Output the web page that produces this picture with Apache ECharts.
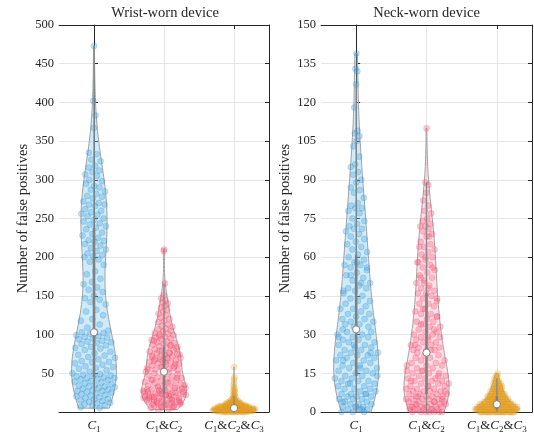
<!DOCTYPE html>
<html><head><meta charset="utf-8">
<script src="https://cdn.jsdelivr.net/npm/echarts@6/dist/echarts.min.js"></script>
<style>html,body{margin:0;padding:0;background:#fff}#c{width:534px;height:434px}</style>
</head><body><div id="c"></div>
<script>
// ---------- data ----------
const categories = ['C1', 'C1&C2', 'C1&C2&C3'];
const panelTitles = ['Wrist-worn device', 'Neck-worn device'];
const yAxisName = 'Number of false positives';
const wristAxis = { min: 0, max: 500, interval: 50 };
const neckAxis = { min: 0, max: 150, interval: 15 };

const wristC1 = [473,402,383,367,335,333,326,324,318,316,312,310,307,305,300,298,292,
295,290,287,285,282,279,278,276,272,270,268,268,266,262,260,258,256,255,253,250,248,246,244,242,240,238,236,232,230,228,225,222,221,220,217,215,212,210,208,205,203,201,200,
197,194,190,182,178,172,168,165,161,158,155,150,147,145,142,139,132,130,125,120,118,113,109,105,
104,103,102,101,99,98,97,96,95,94,92,91,90,89,88,86,84,83,82,80,78,76,74,73,71,70,68,66,65,64,63,61,59,58,57,56,54,52,
50,49,48,47,47,46,45,44,44,43,42,41,40,39,38,37,36,35,34,33,33,32,31,30,29,28,27,27,26,25,24,23,22,21,20,19,18,17,16,15,14,13,12,11,10,9,8,6,5];

const wristC1C2 = [210,208,166,151,147,144,142,140,137,135,132,130,127,125,122,120,118,116,113,111,110,108,107,105,104,102,101,100,99,97,96,95,94,93,91,90,89,88,87,86,85,84,83,81,80,79,78,77,76,75,74,73,72,71,70,69,68,67,66,65,64,63,62,61,60,59,58,57,56,55,54,53,92,86,79,74,70,66,62,58,55,76,98,82,64,71,57,68,
52,51,50,49,48,47,46,45,44,43,42,41,40,39,38,37,36,35,34,33,32,31,30,29,28,27,26,25,24,23,22,21,20,19,18,17,16,15,14,13,12,11,10,9,8,7,6,5,4,3,
30,28,26,25,24,22,21,20,18,17,16,15,14,12,11,10,8,7,27,23,19,13,9,29,31,33,35,38,41,44,24,20,16,12,26,22,18,6,28];

const wristC1C2C3 = [0,0,0,0,0,0,0,0,0,0,0,0,
1,1,1,1,1,1,1,1,1,1,1,1,1,1,
2,2,2,2,2,2,2,2,2,2,2,2,2,2,
3,3,3,3,3,3,3,3,3,3,3,3,3,3,
4,4,4,4,4,4,4,4,4,4,4,4,
5,5,5,5,5,5,5,5,5,5,5,5,
6,6,6,6,6,6,6,6,6,6,
7,7,7,7,7,7,7,7,7,
8,8,8,8,8,8,8,8,
9,9,9,9,9,9,
10,10,10,10,10,10,
11,11,11,11,11,
12,12,12,12,
13,13,13,14,14,14,15,15,15,
16,17,18,19,20,21,22,24,25,27,28,30,32,35,38,42,45,58];

const neckC1 = [139,133,132,127,118,109,108,107,105,103,
99,96,95,93,92,90,89,87,86,85,
83,81,80,79,79,78,77,75,74,73,
72,71,71,70,69,68,67,66,65,64,
63,62,61,60,59,58,57,57,56,55,
54,53,52,51,50,49,48,48,47,46,
45,44,43,43,42,41,40,40,39,38,
38,37,36,36,35,35,34,34,33,33,
47,50,53,56,58,32,
0,0,0,1,1,1,2,2,2,3,3,3,4,4,5,5,5,6,6,6,7,7,7,8,8,9,9,9,10,10,11,11,12,12,12,13,13,14,14,15,
15,16,16,17,17,18,18,19,19,20,20,21,21,22,22,22,23,23,24,24,25,25,26,26,27,27,28,28,29,29,
30,30,31,31,2,4,7,11,14,17,20,23,26,29,1];

const neckC1C2 = [110,89,88,85,82,80,78,77,75,74,73,72,72,71,70,69,68,66,65,64,63,62,61,60,59,58,57,56,55,54,53,52,51,50,49,48,47,46,46,45,
44,43,42,42,41,40,39,38,38,37,36,35,35,34,33,33,32,31,31,30,30,29,29,28,28,27,27,26,26,25,25,24,24,24,
40,44,48,52,56,60,64,68,34,37,29,26,32,50,58,24,23,
0,0,0,0,0,0,0,1,1,1,1,1,1,2,2,2,2,2,3,3,3,3,3,4,4,4,4,5,5,5,5,5,6,6,6,6,7,7,7,7,8,8,8,8,9,9,9,
10,10,10,11,11,11,12,12,12,13,13,13,14,14,15,15,15,16,16,17,17,18,18,19,19,20,20,21,21,22,22,
2,4,6,8,10,12,14,16,18,1,3,5];

const neckC1C2C3 = [0,0,0,0,0,0,0,0,0,0,0,0,0,0,0,0,0,0,0,0,0,0,0,0,0,0,0,0,0,0,
1,1,1,1,1,1,1,1,1,1,1,1,1,1,1,1,1,1,1,1,1,1,1,1,
2,2,2,2,2,2,2,2,2,2,2,2,2,2,2,2,2,2,2,2,
3,3,3,3,3,3,3,3,3,3,3,3,3,3,3,3,
4,4,4,4,4,4,4,4,4,4,4,4,4,
5,5,5,5,5,5,5,5,5,5,5,
6,6,6,6,6,6,6,6,6,
7,7,7,7,7,7,7,7,
8,8,8,8,8,8,
9,9,9,9,9,9,
10,10,10,10,10,
11,11,11,11,
12,12,12,13,13,14,14,15];

// ---------- styling ----------
const serif = "'Liberation Serif','DejaVu Serif',serif";
const txt = '#262626';
const palette = [
  { fill: 'rgba(120,200,240,0.36)', pt: 'rgba(55,150,215,0.36)', edge: 'rgba(40,130,200,0.32)' },
  { fill: 'rgba(255,170,195,0.35)', pt: 'rgba(245,80,110,0.36)', edge: 'rgba(230,60,90,0.3)' },
  { fill: 'rgba(232,178,50,0.6)',  pt: 'rgba(235,165,40,0.3)',  edge: 'rgba(215,150,30,0.28)' }
];
const MAXW = 0.32;

// ---------- stats ----------
function quantile(s, p) {
  const n = s.length; const pos = n * p + 0.5;
  if (pos < 1) return s[0]; if (pos >= n) return s[n - 1];
  const lo = Math.floor(pos), f = pos - lo;
  return s[lo - 1] + f * (s[lo] - s[lo - 1]);
}
function analyse(data) {
  const s = data.slice().sort((a, b) => a - b);
  const N = s.length;
  const med = quantile(s, 0.5);
  const dev = s.map(v => Math.abs(v - med)).sort((a, b) => a - b);
  let sig = quantile(dev, 0.5) / 0.6745;
  if (!sig) { const m = s.reduce((a, b) => a + b, 0) / N; sig = Math.sqrt(s.reduce((a, b) => a + (b - m) * (b - m), 0) / (N - 1)); }
  const h = sig * Math.pow(4 / (3 * N), 0.2);
  const lo = s[0], hi = s[N - 1];
  const ys = [], ds = [];
  const K = 120;
  for (let k = 0; k < K; k++) {
    const y = lo + (hi - lo) * k / (K - 1);
    let d = 0;
    for (const v of s) { const z = (y - v) / h; d += Math.exp(-0.5 * z * z); }
    ys.push(y); ds.push(d);
  }
  const mx = Math.max(...ds);
  const ws = ds.map(d => d / mx * MAXW);
  const q1 = quantile(s, 0.25), q3 = quantile(s, 0.75), iqr = q3 - q1;
  let lw = q1 - 1.5 * iqr; lw = Math.max(lw, Math.min(...s.filter(v => v > lw)));
  let hw = q3 + 1.5 * iqr; hw = Math.min(hw, Math.max(...s.filter(v => v < hw)));
  function widthAt(v) {
    if (hi === lo) return MAXW;
    const t = (v - lo) / (hi - lo) * (K - 1);
    const a = Math.max(0, Math.min(K - 2, Math.floor(t))); const f = t - a;
    return ws[a] + f * (ws[a + 1] - ws[a]);
  }
  return { ys, ws, med, q1, q3, lw, hw, widthAt };
}

const panels = [
  { groups: [wristC1, wristC1C2, wristC1C2C3], axis: wristAxis, left: 59, width: 210, showMin: false },
  { groups: [neckC1, neckC1C2, neckC1C2C3], axis: neckAxis, left: 321, width: 211, showMin: true }
];

function catLabel(v) {
  let out = '';
  for (const ch of v) {
    if (ch === 'C') out += '{i|C}';
    else if (/[0-9]/.test(ch)) out += '{s|' + ch + '}';
    else out += '{n|' + ch + '}';
  }
  return out;
}
const catRich = {
  i: { fontFamily: serif, fontStyle: 'italic', fontSize: 13, color: txt, lineHeight: 16, verticalAlign: 'middle' },
  n: { fontFamily: serif, fontSize: 13, color: txt, lineHeight: 16, verticalAlign: 'middle' },
  s: { fontFamily: serif, fontSize: 9, color: txt, lineHeight: 10, verticalAlign: 'bottom', padding: [6, 0, 0, 0] }
};

const grids = [], xAxes = [], yAxes = [], series = [];
const PHI = 0.6180339887;
panels.forEach((P, p) => {
  grids.push({ left: P.left, top: 25, width: P.width, height: 387, containLabel: false });
  const stats = P.groups.map(analyse);
  xAxes.push({
    type: 'category', gridIndex: p, data: categories, position: 'bottom', boundaryGap: true,
    axisLine: { show: true, lineStyle: { color: txt, width: 1 } },
    axisTick: { show: true, inside: true, alignWithLabel: true, length: 4, lineStyle: { color: txt } },
    axisLabel: { formatter: catLabel, rich: catRich, margin: 6, interval: 0, hideOverlap: false },
    splitLine: { show: true, alignWithLabel: true, lineStyle: { color: '#e6e6e6', width: 1 } }
  });
  xAxes.push({ type: 'value', gridIndex: p, min: -0.5, max: 2.5, show: false, splitLine: { show: false } });
  xAxes.push({
    type: 'category', gridIndex: p, data: categories, position: 'top', boundaryGap: true,
    axisLine: { show: true, lineStyle: { color: txt, width: 1 } },
    axisTick: { show: true, inside: true, alignWithLabel: true, length: 4, lineStyle: { color: txt } },
    axisLabel: { show: false }, splitLine: { show: false }
  });
  yAxes.push({
    type: 'value', gridIndex: p, position: 'left', min: P.axis.min, max: P.axis.max, interval: P.axis.interval,
    axisLine: { show: true, lineStyle: { color: txt, width: 1 } },
    axisTick: { show: true, inside: true, length: 4, lineStyle: { color: txt } },
    axisLabel: { fontFamily: serif, fontSize: 12.5, color: txt, margin: 5, showMinLabel: P.showMin },
    splitLine: { show: true, lineStyle: { color: '#e6e6e6', width: 1 } },
    name: yAxisName, nameLocation: 'middle', nameGap: 28,
    nameTextStyle: { fontFamily: serif, fontSize: 14.5, color: txt }
  });
  yAxes.push({
    type: 'value', gridIndex: p, position: 'right', min: P.axis.min, max: P.axis.max, interval: P.axis.interval,
    axisLine: { show: true, lineStyle: { color: txt, width: 1 } },
    axisTick: { show: true, inside: true, length: 4, lineStyle: { color: txt } },
    axisLabel: { show: false }, splitLine: { show: false }
  });
  const xi = 3 * p + 1, yi = 2 * p;
  series.push({
    type: 'custom', xAxisIndex: xi, yAxisIndex: yi, z: 2, silent: true,
    data: stats.map((s, i) => [i, s.med]),
    renderItem: (params, api) => {
      const i = params.dataIndex, s = stats[i];
      const pts = [];
      for (let k = 0; k < s.ys.length; k++) pts.push(api.coord([i + s.ws[k], s.ys[k]]));
      for (let k = s.ys.length - 1; k >= 0; k--) pts.push(api.coord([i - s.ws[k], s.ys[k]]));
      return { type: 'polygon', shape: { points: pts }, style: { fill: palette[i].fill, stroke: '#a0a0a0', lineWidth: 1 } };
    }
  });
  P.groups.forEach((g, i) => {
    const s = stats[i];
    series.push({
      type: 'scatter', xAxisIndex: xi, yAxisIndex: yi, z: 3, silent: true, symbolSize: 6,
      itemStyle: { color: palette[i].pt, borderColor: palette[i].edge, borderWidth: 0.8 },
      data: g.map((v, k) => { const u = ((k + 1) * PHI) % 1; return [i + (2 * u - 1) * s.widthAt(v), v]; })
    });
  });
  series.push({
    type: 'custom', xAxisIndex: xi, yAxisIndex: yi, z: 4, silent: true,
    data: stats.map((s, i) => [i, s.med]),
    renderItem: (params, api) => {
      const i = params.dataIndex, s = stats[i];
      const a = api.coord([i, s.lw]), b = api.coord([i, s.hw]);
      const c = api.coord([i, s.q1]), d = api.coord([i, s.q3]);
      const m = api.coord([i, s.med]);
      return { type: 'group', children: [
        { type: 'line', shape: { x1: a[0], y1: a[1], x2: b[0], y2: b[1] }, style: { stroke: '#8a8a8a', lineWidth: 1.4 } },
        { type: 'line', shape: { x1: c[0], y1: c[1], x2: d[0], y2: d[1] }, style: { stroke: '#808080', lineWidth: 2.6 } },
        { type: 'circle', shape: { cx: m[0], cy: m[1], r: 3.6 }, style: { fill: '#ffffff', stroke: '#808080', lineWidth: 1 } }
      ] };
    }
  });
});

const chart = echarts.init(document.getElementById('c'), null, { renderer: 'canvas' });
chart.setOption({
  animation: false,
  backgroundColor: '#ffffff',
  grid: grids, xAxis: xAxes, yAxis: yAxes, series: series,
  graphic: [
    { type: 'text', x: 165, y: 13, style: { text: panelTitles[0], fontFamily: serif, fontSize: 14.5, fill: txt, align: 'center', verticalAlign: 'middle' } },
    { type: 'text', x: 426.5, y: 13, style: { text: panelTitles[1], fontFamily: serif, fontSize: 14.5, fill: txt, align: 'center', verticalAlign: 'middle' } }
  ]
});
</script></body></html>
